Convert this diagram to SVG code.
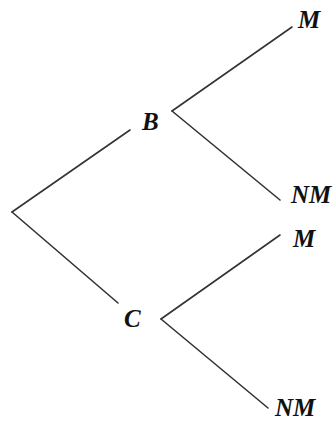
<svg xmlns="http://www.w3.org/2000/svg" width="335" height="421" viewBox="0 0 335 421">
<style>
.e{stroke:#333;stroke-width:1.6;fill:none;stroke-linecap:round}
.t{font-family:"Liberation Serif","Times New Roman",serif;font-style:italic;font-weight:bold;font-size:25px;fill:#111}
</style>
<rect width="335" height="421" fill="#fff"/>
<g id="connectors">
<line class="e" x1="12" y1="212" x2="130" y2="130"/>
<line class="e" x1="12" y1="212" x2="118" y2="303"/>
<line class="e" x1="172" y1="111" x2="292" y2="27"/>
<line class="e" x1="172" y1="111" x2="280" y2="200"/>
<line class="e" x1="161" y1="319" x2="280" y2="235"/>
<line class="e" x1="161" y1="319" x2="268" y2="408"/>
</g>
<g id="B"><text class="t" x="142" y="130">B</text></g>
<g id="C"><text class="t" x="124" y="327">C</text></g>
<g id="M1"><text class="t" x="298" y="28">M</text></g>
<g id="NM1"><text class="t" x="291" y="203">NM</text></g>
<g id="M2"><text class="t" x="293" y="247">M</text></g>
<g id="NM2"><text class="t" x="275" y="416">NM</text></g>
</svg>
